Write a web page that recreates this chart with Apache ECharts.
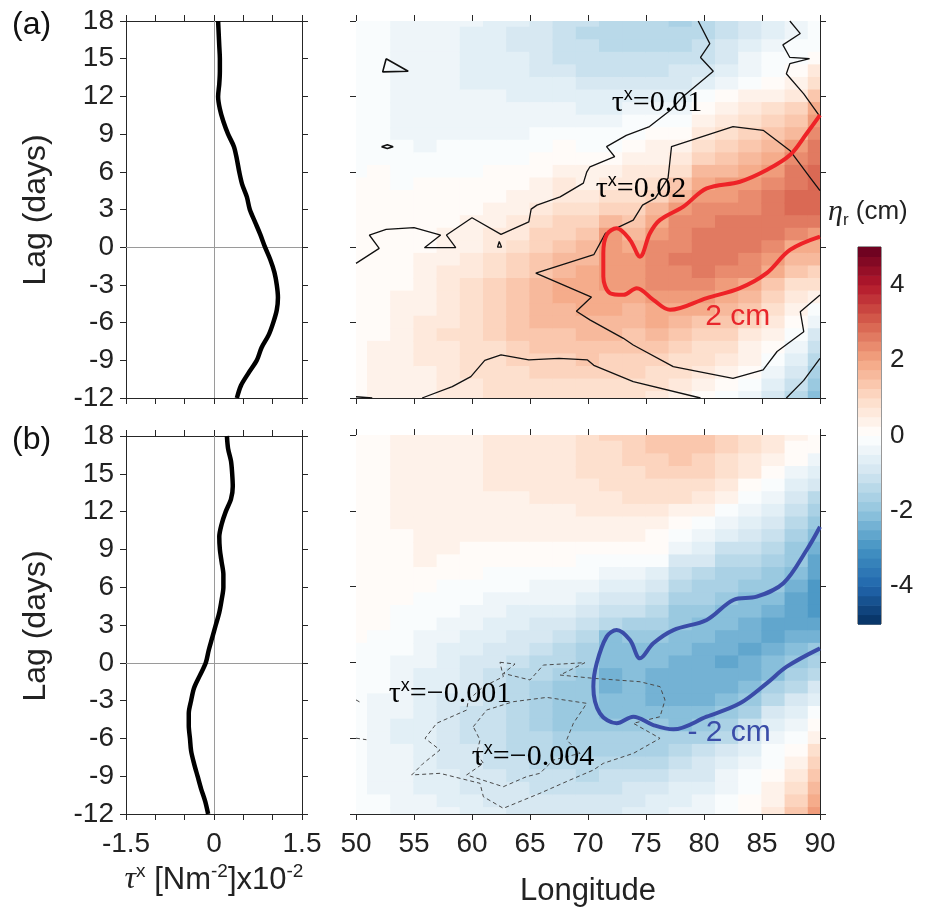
<!DOCTYPE html>
<html><head><meta charset="utf-8">
<script src="https://cdn.jsdelivr.net/npm/echarts@6/dist/echarts.min.js"></script>
<style>html,body{margin:0;padding:0;background:#fff}#c{width:934px;height:917px}</style>
</head><body><div id="c"></div>
<script>
// ---------------- data ----------------
const LAGS = [18,17,16,15,14,13,12,11,10,9,8,7,6,5,4,3,2,1,0,-1,-2,-3,-4,-5,-6,-7,-8,-9,-10,-11,-12];
const LONS = [50,52,54,56,58,60,62,64,66,68,70,72,74,76,78,80,82,84,86,88,90];
const LON_STEP = 2, LAG_STEP = 1;

// zonal wind stress profiles (x10^-2 N m^-2), one value per lag in LAGS
const TAU_A = [0.07,0.08,0.09,0.10,0.10,0.09,0.07,0.10,0.16,0.24,0.34,0.39,0.43,0.48,0.56,0.61,0.70,0.79,0.87,0.96,1.03,1.07,1.09,1.07,1.01,0.93,0.81,0.73,0.59,0.46,0.39];
const TAU_B = [0.22,0.24,0.29,0.31,0.32,0.29,0.20,0.13,0.09,0.10,0.13,0.16,0.16,0.13,0.09,0.03,-0.03,-0.09,-0.14,-0.24,-0.34,-0.39,-0.43,-0.43,-0.41,-0.39,-0.34,-0.28,-0.22,-0.15,-0.10];

// eta_r (cm): one row per longitude in LONS, values for lags in LAGS (18 ... -12)
const ETA_A = [
 [-0.2,-0.2,-0.2,-0.2,-0.2,-0.2,-0.2,-0.15,-0.15,-0.1,-0.1,-0.05,-0.05,0,0,0,0,0.05,0.05,0.05,0.05,0.05,0.1,0.1,0.1,0.15,0.15,0.15,0.15,0.15,0.15],
 [-0.22,-0.22,-0.22,-0.22,-0.22,-0.22,-0.22,-0.2,-0.2,-0.15,-0.1,-0.05,0,0,0,0,0.02,0.05,0.05,0.08,0.1,0.12,0.15,0.18,0.2,0.22,0.25,0.25,0.25,0.25,0.25],
 [-0.3,-0.32,-0.33,-0.35,-0.35,-0.35,-0.35,-0.33,-0.3,-0.28,-0.25,-0.15,-0.08,-0.02,0,0.02,0.05,0.08,0.1,0.15,0.18,0.2,0.25,0.28,0.3,0.33,0.35,0.35,0.35,0.33,0.3],
 [-0.35,-0.38,-0.4,-0.42,-0.42,-0.42,-0.4,-0.38,-0.35,-0.32,-0.28,-0.2,-0.1,0,0.05,0.08,0.12,0.18,0.22,0.28,0.32,0.38,0.42,0.45,0.5,0.52,0.52,0.5,0.48,0.45,0.42],
 [-0.4,-0.42,-0.45,-0.47,-0.47,-0.46,-0.42,-0.38,-0.32,-0.28,-0.22,-0.15,-0.05,0.02,0.08,0.15,0.22,0.3,0.38,0.45,0.52,0.58,0.65,0.7,0.72,0.75,0.72,0.7,0.65,0.58,0.52],
 [-0.5,-0.52,-0.55,-0.55,-0.55,-0.52,-0.48,-0.42,-0.35,-0.3,-0.22,-0.12,-0.05,0.05,0.12,0.2,0.28,0.38,0.48,0.58,0.68,0.78,0.85,0.9,0.92,0.9,0.88,0.82,0.75,0.68,0.6],
 [-0.62,-0.65,-0.65,-0.62,-0.57,-0.52,-0.46,-0.4,-0.33,-0.27,-0.2,-0.08,0.02,0.1,0.2,0.3,0.42,0.52,0.65,0.78,0.9,1.02,1.1,1.15,1.12,1.05,0.98,0.92,0.85,0.8,0.75],
 [-0.75,-0.78,-0.78,-0.75,-0.68,-0.6,-0.53,-0.48,-0.4,-0.3,-0.18,-0.05,0.05,0.15,0.28,0.4,0.55,0.7,0.85,1.0,1.15,1.3,1.4,1.42,1.35,1.25,1.12,1.0,0.95,0.9,0.85],
 [-0.92,-0.95,-0.92,-0.87,-0.78,-0.67,-0.56,-0.45,-0.32,-0.2,-0.08,0.05,0.18,0.32,0.48,0.65,0.82,1.0,1.2,1.35,1.48,1.58,1.62,1.58,1.5,1.38,1.25,1.12,1.02,0.95,0.9],
 [-1.12,-1.16,-1.12,-1.04,-0.9,-0.75,-0.6,-0.46,-0.3,-0.15,0.02,0.17,0.33,0.5,0.68,0.85,1.0,1.2,1.4,1.55,1.68,1.75,1.78,1.72,1.6,1.45,1.3,1.15,1.02,0.95,0.9],
 [-1.25,-1.28,-1.24,-1.15,-1.04,-0.89,-0.72,-0.56,-0.4,-0.22,-0.05,0.12,0.3,0.48,0.68,0.88,1.08,1.3,1.5,1.68,1.82,1.9,1.92,1.85,1.72,1.58,1.42,1.25,1.1,0.98,0.88],
 [-1.34,-1.36,-1.3,-1.2,-1.08,-0.92,-0.74,-0.57,-0.38,-0.2,-0.02,0.18,0.38,0.6,0.82,1.1,1.5,2.04,2.14,2.21,2.2,2.08,1.95,1.82,1.68,1.52,1.38,1.22,1.08,0.95,0.85],
 [-1.34,-1.33,-1.26,-1.14,-1.01,-0.86,-0.67,-0.46,-0.25,-0.03,0.15,0.32,0.52,0.74,0.96,1.2,1.45,1.7,1.92,2.07,2.14,2.04,1.88,1.72,1.58,1.45,1.32,1.18,1.02,0.88,0.75],
 [-1.5,-1.47,-1.34,-1.19,-1.04,-0.86,-0.64,-0.43,-0.2,0.02,0.25,0.45,0.68,0.95,1.22,1.55,1.95,2.14,2.28,2.35,2.35,2.28,2.14,1.95,1.75,1.55,1.38,1.18,0.98,0.8,0.62],
 [-1.55,-1.5,-1.33,-1.15,-0.98,-0.78,-0.54,-0.3,-0.05,0.18,0.42,0.68,0.95,1.25,1.62,2.04,2.25,2.39,2.49,2.53,2.49,2.39,2.21,1.98,1.7,1.45,1.2,0.98,0.78,0.6,0.45],
 [-1.44,-1.38,-1.23,-1.03,-0.8,-0.52,-0.15,0.12,0.4,0.65,0.92,1.2,1.5,1.8,2.07,2.28,2.43,2.56,2.63,2.63,2.57,2.42,2.11,1.8,1.48,1.18,0.95,0.75,0.55,0.38,0.22],
 [-1.22,-1.15,-0.98,-0.77,-0.53,-0.26,0.05,0.3,0.58,0.85,1.12,1.4,1.7,2.01,2.21,2.39,2.56,2.74,2.74,2.63,2.43,2.21,1.92,1.6,1.3,1.02,0.78,0.58,0.38,0.18,-0.02],
 [-0.92,-0.84,-0.69,-0.5,-0.29,-0.02,0.25,0.52,0.8,1.08,1.35,1.62,1.92,2.14,2.32,2.49,2.6,2.63,2.57,2.43,2.25,1.98,1.62,1.3,1.0,0.72,0.48,0.25,0.05,-0.18,-0.35],
 [-0.62,-0.52,-0.39,-0.22,-0.03,0.2,0.48,0.75,1.02,1.3,1.58,1.88,2.11,2.32,2.5,2.63,2.63,2.53,2.35,2.15,1.82,1.45,1.1,0.78,0.5,0.28,0.1,-0.05,-0.3,-0.55,-0.8],
 [-0.4,-0.3,-0.18,-0.05,0.12,0.38,0.7,1.0,1.3,1.62,2.0,2.27,2.5,2.68,2.8,2.8,2.65,2.35,1.98,1.6,1.25,0.92,0.6,0.35,0.12,-0.1,-0.38,-0.68,-0.98,-1.22,-1.45],
 [-0.25,-0.12,-0.02,0.2,0.5,0.95,1.35,1.75,2.08,2.3,2.5,2.65,2.8,2.88,2.9,2.85,2.6,2.12,1.8,1.5,1.2,0.85,0.35,-0.05,-0.45,-0.8,-1.1,-1.35,-1.65,-1.9,-2.1]
];
const ETA_B = [
 [0.12,0.12,0.12,0.12,0.12,0.12,0.12,0.12,0.12,0.12,0.1,0.1,0.08,0.06,0.05,0.03,0.01,-0.02,-0.06,-0.1,-0.14,-0.18,-0.21,-0.23,-0.24,-0.24,-0.23,-0.22,-0.2,-0.18,-0.15],
 [0.18,0.18,0.18,0.18,0.18,0.18,0.17,0.17,0.16,0.15,0.14,0.12,0.1,0.07,0.04,0,-0.05,-0.1,-0.15,-0.2,-0.25,-0.3,-0.33,-0.35,-0.36,-0.35,-0.33,-0.3,-0.27,-0.24,-0.22],
 [0.25,0.25,0.25,0.25,0.25,0.25,0.25,0.25,0.24,0.23,0.22,0.2,0.12,0.05,-0.03,-0.1,-0.17,-0.24,-0.3,-0.36,-0.42,-0.46,-0.5,-0.52,-0.52,-0.5,-0.47,-0.43,-0.38,-0.34,-0.3],
 [0.3,0.3,0.31,0.32,0.32,0.32,0.32,0.31,0.3,0.28,0.26,0.22,0.1,-0.03,-0.12,-0.2,-0.28,-0.36,-0.44,-0.52,-0.58,-0.64,-0.68,-0.7,-0.7,-0.68,-0.64,-0.58,-0.52,-0.45,-0.38],
 [0.35,0.36,0.37,0.38,0.38,0.37,0.36,0.34,0.3,0.25,0.18,0.1,-0.02,-0.12,-0.22,-0.32,-0.42,-0.52,-0.6,-0.68,-0.75,-0.8,-0.85,-0.87,-0.87,-0.85,-0.8,-0.74,-0.66,-0.58,-0.5],
 [0.42,0.43,0.44,0.44,0.43,0.41,0.38,0.34,0.28,0.2,0.12,0.02,-0.1,-0.22,-0.34,-0.46,-0.58,-0.68,-0.78,-0.86,-0.94,-1.0,-1.04,-1.05,-1.04,-1.0,-0.94,-0.86,-0.78,-0.68,-0.6],
 [0.52,0.53,0.53,0.52,0.5,0.46,0.41,0.35,0.28,0.2,0.1,-0.03,-0.16,-0.3,-0.44,-0.58,-0.72,-0.84,-0.96,-1.06,-1.14,-1.2,-1.23,-1.23,-1.2,-1.14,-1.06,-0.97,-0.88,-0.78,-0.7],
 [0.62,0.62,0.6,0.57,0.53,0.48,0.42,0.35,0.26,0.17,0.06,-0.08,-0.22,-0.38,-0.54,-0.7,-0.86,-1.0,-1.14,-1.26,-1.36,-1.42,-1.44,-1.42,-1.36,-1.28,-1.18,-1.07,-0.96,-0.86,-0.78],
 [0.7,0.68,0.66,0.62,0.57,0.51,0.44,0.36,0.27,0.16,0.04,-0.1,-0.26,-0.43,-0.6,-0.78,-0.96,-1.12,-1.28,-1.42,-1.54,-1.6,-1.62,-1.58,-1.5,-1.4,-1.28,-1.15,-1.02,-0.92,-0.82],
 [0.65,0.68,0.68,0.66,0.62,0.56,0.48,0.39,0.29,0.17,0.04,-0.12,-0.3,-0.5,-0.7,-0.9,-1.1,-1.3,-1.48,-1.64,-1.76,-1.82,-1.82,-1.76,-1.66,-1.52,-1.38,-1.24,-1.1,-0.96,-0.85],
 [0.85,0.85,0.83,0.78,0.72,0.63,0.53,0.41,0.28,0.14,-0.02,-0.2,-0.4,-0.62,-0.85,-1.08,-1.32,-1.55,-1.75,-1.9,-1.95,-1.95,-1.9,-1.82,-1.7,-1.56,-1.42,-1.28,-1.12,-0.98,-0.85],
 [1.0,0.98,0.94,0.88,0.8,0.7,0.58,0.44,0.28,0.1,-0.1,-0.32,-0.56,-0.82,-1.1,-1.5,-2.04,-2.14,-2.21,-2.32,-2.35,-2.25,-2.11,-1.9,-1.72,-1.55,-1.38,-1.22,-1.06,-0.92,-0.8],
 [1.15,1.12,1.06,0.98,0.88,0.76,0.62,0.46,0.28,0.08,-0.14,-0.38,-0.64,-0.92,-1.22,-1.52,-1.8,-2.01,-2.11,-2.18,-2.21,-2.15,-2.06,-1.88,-1.7,-1.52,-1.35,-1.18,-1.0,-0.86,-0.72],
 [1.3,1.27,1.2,1.1,0.98,0.83,0.66,0.46,0.24,0.02,-0.24,-0.52,-0.82,-1.12,-1.42,-1.7,-1.92,-2.11,-2.25,-2.34,-2.35,-2.29,-2.18,-2.0,-1.75,-1.52,-1.3,-1.1,-0.9,-0.75,-0.6],
 [1.35,1.32,1.25,1.12,0.96,0.76,0.45,0.12,-0.2,-0.5,-0.8,-1.08,-1.35,-1.58,-1.78,-1.95,-2.11,-2.25,-2.36,-2.43,-2.43,-2.36,-2.22,-2.04,-1.75,-1.45,-1.18,-0.95,-0.75,-0.58,-0.45],
 [1.3,1.25,1.15,1.0,0.8,0.55,0.25,-0.1,-0.4,-0.7,-1.0,-1.28,-1.52,-1.72,-1.88,-2.04,-2.21,-2.36,-2.48,-2.49,-2.42,-2.28,-2.1,-1.85,-1.55,-1.25,-0.98,-0.76,-0.56,-0.42,-0.3],
 [1.15,1.08,0.96,0.78,0.55,0.25,-0.15,-0.45,-0.75,-1.02,-1.3,-1.55,-1.75,-1.92,-2.07,-2.25,-2.41,-2.5,-2.53,-2.46,-2.32,-2.14,-1.9,-1.58,-1.26,-0.98,-0.72,-0.5,-0.32,-0.18,-0.06],
 [0.95,0.86,0.72,0.52,0.24,-0.1,-0.4,-0.7,-0.98,-1.25,-1.5,-1.72,-1.9,-2.01,-2.21,-2.39,-2.5,-2.53,-2.46,-2.32,-2.14,-1.88,-1.52,-1.15,-0.82,-0.52,-0.3,-0.15,-0.04,0.08,0.22],
 [0.7,0.58,0.4,0.15,-0.15,-0.45,-0.72,-0.98,-1.22,-1.45,-1.65,-1.82,-1.97,-2.14,-2.39,-2.53,-2.56,-2.42,-2.25,-2.04,-1.7,-1.35,-1.0,-0.7,-0.45,-0.24,-0.06,0.1,0.28,0.46,0.65],
 [0.4,0.22,0.0,-0.28,-0.6,-0.92,-1.22,-1.48,-1.7,-1.88,-1.99,-2.15,-2.4,-2.6,-2.7,-2.7,-2.5,-2.22,-1.98,-1.62,-1.28,-0.95,-0.65,-0.38,-0.14,0.08,0.32,0.55,0.78,1.0,1.25],
 [0.12,0.0,-0.3,-0.65,-1.0,-1.32,-1.6,-1.95,-2.15,-2.35,-2.55,-2.72,-2.83,-2.85,-2.78,-2.6,-2.3,-1.98,-1.65,-1.3,-0.95,-0.6,-0.22,0.12,0.45,0.75,1.02,1.3,1.6,1.9,2.2]
];

// colour levels (cm) and labelled ticks
const CB_LEVELS = [-5,-4.75,-4.5,-4.25,-4,-3.75,-3.5,-3.25,-3,-2.75,-2.5,-2.25,-2,-1.75,-1.5,-1.25,-1,-0.75,-0.5,-0.25,0,0.25,0.5,0.75,1,1.25,1.5,1.75,2,2.25,2.5,2.75,3,3.25,3.5,3.75,4,4.25,4.5,4.75,5];
const CB_TICKS = [-4,-2,0,2,4];
const TAU_LABELLED = [-1.5,0,1.5];

// contour lines [lon, lag]
const RED_2CM = [[90,10.51],[88.85,9.05],[87.41,7.33],[85.4,6.14],[83.1,5.21],[80.23,4.68],[78.22,3.23],[76.21,2.17],[75.34,1.11],[74.48,-0.75],[73.62,0.58],[72.47,1.51],[71.61,0.98],[71.32,-0.48],[71.32,-2.33],[71.9,-3.66],[73.05,-3.79],[74.2,-3.26],[75.63,-4.19],[77.07,-4.98],[80.23,-4.05],[83.1,-3.26],[85.4,-2.07],[87.41,-0.22],[90,0.84]];
const BLUE_M2CM = [[90,10.74],[88.85,8.9],[86.84,6.26],[84.54,5.2],[82.53,4.94],[80.23,3.36],[77.36,2.56],[75.63,1.51],[74.48,0.32],[73.62,1.77],[72.47,2.56],[71.61,2.04],[70.75,-0.07],[70.46,-1.92],[71.03,-4.03],[72.47,-4.82],[73.91,-4.3],[75.63,-4.96],[77.36,-5.3],[80.23,-4.3],[83.1,-3.24],[85.4,-1.66],[87.13,-0.34],[90,1.11]];
const TAU_A_001 = [[50,-1.29],[52.0,-0.09],[51.15,0.97],[52.6,1.42],[55.0,1.55],[57.3,0.97],[55.9,-0.04],[58.6,-0.04],[57.8,0.97],[60.0,2.34],[62.5,1.02],[64.9,2.02],[65.1,3.03],[65.6,3.35],[67.6,4.0],[69.6,5.1],[69.9,6.0],[70.17,6.4],[72.3,7.2],[71.6,8.0],[73.3,8.9],[75.3,9.6],[77.1,10.9],[78.2,12.0],[80.8,14.0],[79.7,15.1],[80.5,16.2],[79.5,18]];
const TAU_A_002 = [[90,4.5],[89.1,5.6],[87.4,7.7],[85.1,9.3],[82.5,9.6],[77.2,8.0],[76.9,5.5],[75.8,3.9],[74.7,3.35],[73.9,2.15],[71.5,1.1],[70.5,-0.6],[65.5,-2.07],[70.3,-3.97],[69.0,-5.1],[70.2,-5.8],[73.05,-7.25],[73.9,-7.78],[77.35,-9.5],[82.5,-10.43],[85.1,-9.77],[86.3,-8.3],[88.6,-6.72],[88.3,-5.13],[90,-3.8]];
const TAU_A_NE = [[87.4,18],[88.3,17.0],[86.8,16.1],[87.4,15.1],[89.1,15.0],[87.4,14.6],[87.1,13.8],[88.6,12.2],[90,10.4]];
const TAU_A_S = [[55.7,-12],[58.3,-11.1],[59.9,-10.3],[61.1,-9.0],[62.5,-8.57],[64.9,-8.97],[67.5,-8.84],[69.96,-8.97],[70.5,-9.4],[73.9,-10.7],[79.7,-12]];
const TAU_A_SW = [[50,-11.9],[51.4,-12]];
const TAU_A_SE = [[87.1,-12],[88.6,-10.6],[90,-8.84]];
const TAU_A_LOOP1 = [[52.6,15.0],[54.5,14.0],[52.3,13.95],[52.6,15.0]];
const TAU_A_LOOP2 = [[52.2,8.0],[52.7,8.15],[53.2,8.0],[52.7,7.85],[52.2,8.0]];
const TAU_A_LOOP3 = [[62.35,0.45],[62.55,0.0],[62.2,0.0],[62.35,0.45]];
const TAU_B_0001 = [[62.41,0.01],[63.71,-0.13],[62.7,-0.87],[65.0,-1.39],[66.15,-0.21],[69.74,-0.02],[67.59,-1.0],[70.46,-1.26],[74.48,-1.53],[76.21,-1.92],[76.64,-2.98],[76.21,-4.3],[73.91,-4.82],[76.21,-6.01],[73.91,-7.2],[71.32,-7.99],[70.46,-8.52],[68.45,-9.31],[65.86,-10.36],[62.7,-11.55],[60.98,-10.63],[60.69,-9.57],[57.24,-8.78],[54.8,-8.91],[55.8,-7.99],[57.24,-6.93],[55.95,-6.01],[56.95,-4.82],[59.54,-3.77],[59.68,-2.98],[60.98,-1.92],[62.7,-1.13],[62.41,0.01]];
const TAU_B_0004 = [[60.11,-5.09],[61.26,-3.77],[63.56,-3.11],[66.44,-2.77],[69.89,-3.24],[68.74,-4.82],[68.16,-6.14],[69.31,-7.2],[67.01,-7.73],[65.86,-8.78],[64.71,-9.04],[62.7,-9.84],[59.54,-8.91],[60.98,-7.99],[60.4,-7.2],[60.69,-6.14],[60.11,-5.09]];
const TAU_B_STUB1 = [[50,-2.97],[50.35,-3.15]];
const TAU_B_STUB2 = [[50,-6.0],[50.9,-6.12]];

// in-plot labels anchored at [lon, lag]
const LABELS = [
  {grid:2, at:[75.95,11.46], kind:'tau', val:'=0.01'},
  {grid:2, at:[74.57,4.6],  kind:'tau', val:'=0.02'},
  {grid:2, at:[82.9,-5.57], kind:'cm',  val:'2 cm', color:'#e8262b'},
  {grid:3, at:[58.1,-2.5],  kind:'tau', val:'=\u22120.001'},
  {grid:3, at:[65.26,-7.5], kind:'tau', val:'=\u22120.004'},
  {grid:3, at:[82.16,-5.6], kind:'cm',  val:'- 2 cm', color:'#3a4ca8'}
];

// ---------------- style helpers ----------------
const SANS = '"Liberation Sans", Arial, Helvetica, sans-serif';
const SERIF = '"Liberation Serif", "Times New Roman", serif';
const AX = '#262626';
const STOPS = [[-5,[5,48,97]],[-4,[33,102,172]],[-3,[67,147,195]],[-2,[146,197,222]],[-1,[209,229,240]],[0,[255,255,255]],[1,[253,219,199]],[2,[244,165,130]],[3,[214,96,77]],[4,[178,24,43]],[5,[103,0,31]]];
function cmap(v){
  v = Math.max(-5, Math.min(5, v));
  for (let i=0;i<STOPS.length-1;i++){
    const a=STOPS[i], b=STOPS[i+1];
    if (v<=b[0]){ const t=(v-a[0])/(b[0]-a[0]); const c=a[1].map((x,k)=>Math.round(x+(b[1][k]-x)*t)); return 'rgb('+c.join(',')+')'; }
  }
  return 'rgb(103,0,31)';
}
function bandColor(v){
  let k = Math.floor(v/0.25);
  let c = (k+0.5)*0.25;
  c = Math.max(-4.875, Math.min(4.875, c));
  return cmap(c);
}

function xAx(grid, pos, min, max, interval, showLabel, fmt){
  return {type:'value', gridIndex:grid, position:pos, min:min, max:max, interval:interval,
    axisLine:{show:true, onZero:false, lineStyle:{color:AX, width:1}},
    axisTick:{show:true, inside:false, length:6, lineStyle:{color:AX, width:1}},
    axisLabel:{show:showLabel, fontSize:28, color:'#222', fontFamily:SANS, margin:16, formatter:fmt},
    splitLine:{show:false}};
}
function yAx(grid, pos, min, max, interval, showLabel){
  return {type:'value', gridIndex:grid, position:pos, min:min, max:max, interval:interval,
    axisLine:{show:true, onZero:false, lineStyle:{color:AX, width:1}},
    axisTick:{show:true, inside:false, length:6, lineStyle:{color:AX, width:1}},
    axisLabel:{show:showLabel, fontSize:28, color:'#222', fontFamily:SANS, margin:12},
    splitLine:{show:false}};
}
const tauFmt = v => (TAU_LABELLED.indexOf(v) >= 0 ? String(v) : '');

function cellData(grid){
  const out=[];
  LONS.forEach((lon,i)=>LAGS.forEach((lag,j)=>out.push([lon,lag,grid[i][j]])));
  return out;
}
function renderCell(params, api){
  const lon=api.value(0), lag=api.value(1), v=api.value(2);
  const a=api.coord([lon-LON_STEP/2, lag+LAG_STEP/2]);
  const b=api.coord([lon+LON_STEP/2, lag-LAG_STEP/2]);
  const cs=params.coordSys;
  const r=echarts.graphic.clipRectByRect({x:a[0]-0.6, y:a[1]-0.6, width:b[0]-a[0]+1.2, height:b[1]-a[1]+1.2},{x:cs.x, y:cs.y, width:cs.width, height:cs.height});
  if(!r) return;
  return {type:'rect', shape:r, style:{fill:bandColor(v)}};
}
function renderBand(params, api){
  const lo=api.value(1), hi=api.value(2);
  const a=api.coord([0,hi]), b=api.coord([1,lo]);
  return {type:'rect', shape:{x:a[0], y:a[1], width:b[0]-a[0], height:b[1]-a[1]+0.6}, style:{fill:bandColor((lo+hi)/2)}};
}
function contour(data, xi, color, width, dashed, smooth){
  return {type:'line', xAxisIndex:xi, yAxisIndex:xi, data:data, symbol:'none', showSymbol:false, smooth:smooth||false,
    lineStyle:{color:color, width:width, type: dashed ? [4,3] : 'solid'}, z:5, silent:true, animation:false};
}
function profile(tau, xi){
  return {type:'line', xAxisIndex:xi, yAxisIndex:xi, data:LAGS.map((l,i)=>[tau[i], l]), symbol:'none', showSymbol:false, smooth:0.3,
    lineStyle:{color:'#000', width:4.5}, z:5, animation:false,
    markLine:{silent:true, symbol:'none', label:{show:false}, animation:false,
      lineStyle:{color:'#9a9a9a', width:1, type:'solid'}, data:[{xAxis:0},{yAxis:0}]}};
}

const option = {
  backgroundColor:'#fff',
  animation:false,
  grid:[
    {left:126, top:21, width:176, height:377},
    {left:126, top:436, width:176, height:378},
    {left:356, top:21, width:464, height:377},
    {left:356, top:435, width:464, height:379},
    {left:858, top:247, width:23, height:377, show:true, borderColor:'#333', borderWidth:1}
  ],
  xAxis:[
    xAx(0,'bottom',-1.5,1.5,0.5,false), xAx(0,'top',-1.5,1.5,0.5,false),
    xAx(1,'bottom',-1.5,1.5,0.5,true,tauFmt), xAx(1,'top',-1.5,1.5,0.5,false),
    xAx(2,'bottom',50,90,5,false), xAx(2,'top',50,90,5,false),
    xAx(3,'bottom',50,90,5,true), xAx(3,'top',50,90,5,false),
    {type:'value', gridIndex:4, min:0, max:1, show:false}
  ],
  yAxis:[
    yAx(0,'left',-12,18,3,true), yAx(0,'right',-12,18,3,false),
    yAx(1,'left',-12,18,3,true), yAx(1,'right',-12,18,3,false),
    yAx(2,'left',-12,18,6,false), yAx(2,'right',-12,18,6,false),
    yAx(3,'left',-12,18,6,false), yAx(3,'right',-12,18,6,false),
    {type:'value', gridIndex:4, position:'right', min:-5, max:5,
      axisLine:{show:false}, splitLine:{show:false},
      axisTick:{show:true, inside:false, length:5, customValues:CB_TICKS, lineStyle:{color:'#333'}},
      axisLabel:{show:true, customValues:CB_TICKS, fontSize:26, color:'#222', fontFamily:SANS, margin:9}}
  ],
  series:[
    profile(TAU_A,0),
    profile(TAU_B,2),
    {type:'custom', xAxisIndex:4, yAxisIndex:4, data:cellData(ETA_A), renderItem:renderCell, encode:{x:0,y:1}, silent:true, z:1},
    {type:'custom', xAxisIndex:6, yAxisIndex:6, data:cellData(ETA_B), renderItem:renderCell, encode:{x:0,y:1}, silent:true, z:1},
    {type:'custom', xAxisIndex:8, yAxisIndex:8, data:CB_LEVELS.slice(0,-1).map((lo,i)=>[0.5,lo,CB_LEVELS[i+1]]), renderItem:renderBand, encode:{x:0,y:[1,2]}, silent:true, z:1},
    contour(TAU_A_001,4,'#111',1.3), contour(TAU_A_002,4,'#111',1.3), contour(TAU_A_NE,4,'#111',1.3),
    contour(TAU_A_S,4,'#111',1.3), contour(TAU_A_SW,4,'#111',1.3), contour(TAU_A_SE,4,'#111',1.3),
    contour(TAU_A_LOOP1,4,'#111',1.6), contour(TAU_A_LOOP2,4,'#111',1.6), contour(TAU_A_LOOP3,4,'#111',1.3),
    contour(RED_2CM,4,'#ee2327',4,false,0.35),
    contour(TAU_B_0001,6,'#4a4a4a',1,true), contour(TAU_B_0004,6,'#4a4a4a',1,true),
    contour(TAU_B_STUB1,6,'#4a4a4a',1,true), contour(TAU_B_STUB2,6,'#4a4a4a',1,true),
    contour(BLUE_M2CM,6,'#3a4ca8',4,false,0.35)
  ]
};

const chart = echarts.init(document.getElementById('c'), null, {renderer:'canvas'});
chart.setOption(option);

const richTau = {
  t:{fontFamily:SERIF, fontSize:30, lineHeight:34, fill:'#000'},
  s:{fontFamily:SANS, fontSize:18, lineHeight:16, verticalAlign:'top', fill:'#000'}
};
const els = [
  {type:'text', x:12, y:25, style:{text:'(a)', fontSize:32, fontFamily:SANS, fill:'#111', textVerticalAlign:'middle'}},
  {type:'text', x:12, y:440, style:{text:'(b)', fontSize:32, fontFamily:SANS, fill:'#111', textVerticalAlign:'middle'}},
  {type:'text', x:36, y:210, rotation:Math.PI/2, style:{text:'Lag (days)', fontSize:32, fontFamily:SANS, fill:'#222', textAlign:'center', textVerticalAlign:'middle'}},
  {type:'text', x:36, y:626, rotation:Math.PI/2, style:{text:'Lag (days)', fontSize:32, fontFamily:SANS, fill:'#222', textAlign:'center', textVerticalAlign:'middle'}},
  {type:'text', x:588, y:891, style:{text:'Longitude', fontSize:31, fontFamily:SANS, fill:'#222', textAlign:'center', textVerticalAlign:'middle'}},
  {type:'text', x:214, y:880, style:{text:'{i|\u03c4}{s|x}{n| [Nm}{s|-2}{n|]x10}{s|-2}', textAlign:'center', textVerticalAlign:'middle',
    rich:{i:{fontFamily:SERIF, fontStyle:'italic', fontSize:32, lineHeight:36, fill:'#222'},
          n:{fontFamily:SANS, fontSize:31, lineHeight:36, fill:'#222'},
          s:{fontFamily:SANS, fontSize:19, lineHeight:16, verticalAlign:'top', fill:'#222'}}}},
  {type:'text', x:828, y:212, style:{text:'{i|\u03b7}{b|r}{n| (cm)}', textAlign:'left', textVerticalAlign:'middle',
    rich:{i:{fontFamily:SERIF, fontStyle:'italic', fontSize:30, lineHeight:34, fill:'#222'},
          n:{fontFamily:SANS, fontSize:26, lineHeight:34, fill:'#222'},
          b:{fontFamily:SANS, fontSize:17, lineHeight:16, verticalAlign:'bottom', fill:'#222'}}}}
];
LABELS.forEach(l=>{
  const p = chart.convertToPixel({gridIndex:l.grid}, l.at);
  if (l.kind==='tau'){
    els.push({type:'text', x:p[0], y:p[1], z:10, style:{text:'{t|\u03c4}{s|x}{t|'+l.val+'}', rich:richTau, textAlign:'center', textVerticalAlign:'middle'}});
  } else {
    els.push({type:'text', x:p[0], y:p[1], z:10, style:{text:l.val, fontSize:30, fontFamily:SANS, fill:l.color, textAlign:'center', textVerticalAlign:'middle'}});
  }
});
chart.setOption({graphic:{elements:els}});
</script>
</body></html>
